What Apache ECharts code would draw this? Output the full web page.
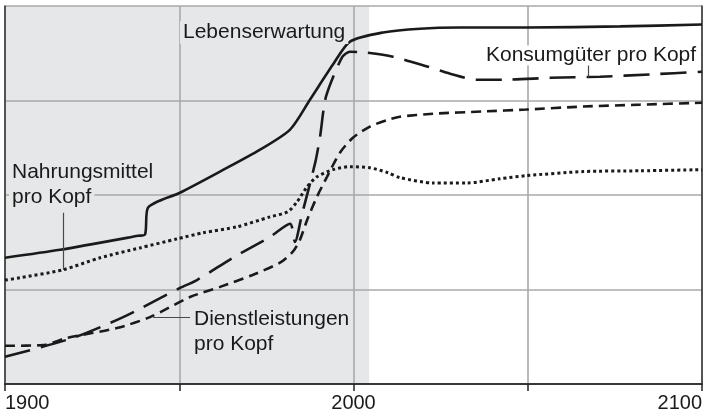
<!DOCTYPE html>
<html>
<head>
<meta charset="utf-8">
<script src="https://cdn.jsdelivr.net/npm/echarts@6/dist/echarts.min.js"></script>
<style>
html, body { margin: 0; padding: 0; background: #fff; }
#chart { width: 711px; height: 420px; }
</style>
</head>
<body>
<div id="chart"></div>
<script>
// Jahre mit Beschriftung an der x-Achse
var labelYears = [1900, 2000, 2100];
var histEnd = 2004.5; // Ende des grau hinterlegten Zeitraums

// [Jahr, Wert] (Skala 0..100)
var lebenserwartung = [[1900,33.4],[1915.8,35.5],[1938.2,39.2],[1940.2,39.6],[1941.0,46.6],[1950.2,50.6],[1961.7,56.2],[1973.2,62.0],[1981.8,67.3],[1987.5,75.2],[1994.1,84.5],[1999.0,90.6],[2008.5,93.0],[2019.1,94.0],[2030.6,94.3],[2049.5,94.3],[2076.5,94.6],[2100,95.1]];
var konsumgueter = [[1900,7.2],[1919.5,12.2],[1933.9,17.7],[1950.2,25.4],[1955.1,27.5],[1965.4,33.4],[1976.0,38.9],[1981.8,42.4],[1983.2,37.6],[1985.2,44.8],[1989.0,58.5],[1990.4,65.4],[1992.1,76.0],[1996.7,86.4],[1999.0,87.9],[2003.3,87.7],[2011.3,86.6],[2021.1,84.0],[2027.7,82.1],[2035.4,80.5],[2043.5,80.5],[2056.4,81.0],[2070.7,81.3],[2085.1,81.9],[2100,82.6]];
var dienstleistungen = [[1900,10.1],[1910.9,10.3],[1917.8,12.2],[1932.1,14.8],[1941.6,17.7],[1953.1,23.0],[1961.7,25.7],[1971.2,28.9],[1978.9,32.1],[1982.6,35.0],[1984.6,38.1],[1986.7,43.4],[1989.5,49.5],[1992.4,54.8],[1996.1,61.2],[1999.9,65.2],[2004.7,68.1],[2009.9,69.9],[2013.3,70.7],[2022.8,71.5],[2037.2,72.1],[2049.5,72.6],[2065.9,73.4],[2082.2,73.9],[2100,74.4]];
var nahrungsmittel = [[1900,27.5],[1904.3,28.1],[1916.6,30.2],[1927.3,33.4],[1938.7,36.0],[1949.4,38.4],[1956.8,40.0],[1966.6,41.6],[1976.0,44.2],[1981.2,45.6],[1983.8,48.2],[1986.7,52.2],[1989.5,54.8],[1994.1,56.7],[1999.0,57.5],[2004.7,57.2],[2009.9,55.9],[2013.3,54.6],[2022.8,53.2],[2032.6,53.2],[2042.0,54.3],[2049.5,55.1],[2065.9,56.2],[2082.2,56.4],[2100,56.7]];

// Hinweislinien von der Kurve zur Beschriftung
var leaderNahrung = [[1916.6,30.2],[1916.6,45.3]];
var leaderDienst = [[1942.5,17.7],[1953.1,17.7]];
var leaderKonsum = [[2067.3,81.2],[2067.3,85.2]];

var ink = '#1a1a1a';
var font = '"Liberation Sans", Arial, sans-serif';

function leader(pts) {
	return {
		silent: true,
		symbol: 'none',
		label: { show: false },
		lineStyle: { color: '#4a4a4a', width: 1.2, type: 'solid' },
		data: [[{ coord: pts[0] }, { coord: pts[1] }]]
	};
}

function lineSeries(name, data, dash, width, extra) {
	var s = {
		name: name,
		type: 'line',
		data: data,
		smooth: 0.25,
		symbol: 'none',
		silent: true,
		lineStyle: { color: ink, width: width, type: dash, cap: 'butt' }
	};
	for (var k in extra) s[k] = extra[k];
	return s;
}

function label(text, x, y, bg, lh) {
	return {
		type: 'text',
		left: x,
		top: y,
		z: 10,
		silent: true,
		style: {
			text: text,
			fill: ink,
			font: '21px ' + font,
			lineHeight: lh || 23,
			backgroundColor: bg,
			padding: [0, 3]
		}
	};
}

var chart = echarts.init(document.getElementById('chart'));
var shade = '#e6e7e9';
var option = {
	animation: false,
	backgroundColor: '#fff',
	grid: { left: 5, right: 9, top: 6, bottom: 36, containLabel: false, outerBoundsMode: 'none' },
	xAxis: [{
		type: 'value',
		min: 1900,
		max: 2100,
		interval: 50,
		z: 1.5,
		axisLine: { show: true, lineStyle: { color: '#222', width: 1.5 } },
		axisTick: { show: true, length: 7, lineStyle: { color: '#222', width: 1.5 } },
		axisLabel: {
			margin: 9,
			fontSize: 20,
			fontFamily: font,
			color: ink,
			alignMinLabel: 'left',
			alignMaxLabel: 'right',
			formatter: function (v) { return labelYears.indexOf(v) >= 0 ? String(v) : ''; }
		},
		splitLine: { show: true, lineStyle: { color: '#a8a9ab', width: 1.6 } }
	}, {
		type: 'value',
		position: 'top',
		min: 1900,
		max: 2100,
		z: 1.5,
		axisLine: { show: true, lineStyle: { color: '#333', width: 1.5 } },
		axisTick: { show: false },
		axisLabel: { show: false },
		splitLine: { show: false }
	}],
	yAxis: [{
		type: 'value',
		min: 0,
		max: 100,
		interval: 25,
		z: 1.5,
		axisLine: { show: true, lineStyle: { color: '#333', width: 1.5 } },
		axisTick: { show: false },
		axisLabel: { show: false },
		splitLine: { show: true, lineStyle: { color: '#a8a9ab', width: 1.6 } }
	}, {
		type: 'value',
		position: 'right',
		min: 0,
		max: 100,
		z: 1.5,
		axisLine: { show: true, lineStyle: { color: '#333', width: 1.5 } },
		axisTick: { show: false },
		axisLabel: { show: false },
		splitLine: { show: false }
	}],
	series: [
		lineSeries('Lebenserwartung', lebenserwartung, 'solid', 2.6, {
			markArea: {
				silent: true,
				itemStyle: { color: shade },
				data: [[{ xAxis: 1900 }, { xAxis: histEnd }]]
			}
		}),
		lineSeries('Konsumgüter pro Kopf', konsumgueter, [26, 11], 2.6, { markLine: leader(leaderKonsum) }),
		lineSeries('Dienstleistungen pro Kopf', dienstleistungen, [10, 6], 2.6, { markLine: leader(leaderDienst) }),
		lineSeries('Nahrungsmittel pro Kopf', nahrungsmittel, [3, 3], 3, { markLine: leader(leaderNahrung) })
	],
	graphic: [
		label('Lebenserwartung', 180, 21, shade),
		label('Konsumgüter pro Kopf', 483, 45, '#fff', 20),
		label('Nahrungsmittel', 9, 161, shade),
		label('pro Kopf', 9, 186, shade),
		label('Dienstleistungen', 191, 308, shade),
		label('pro Kopf', 191, 333, shade)
	]
};
chart.setOption(option);
</script>
</body>
</html>
